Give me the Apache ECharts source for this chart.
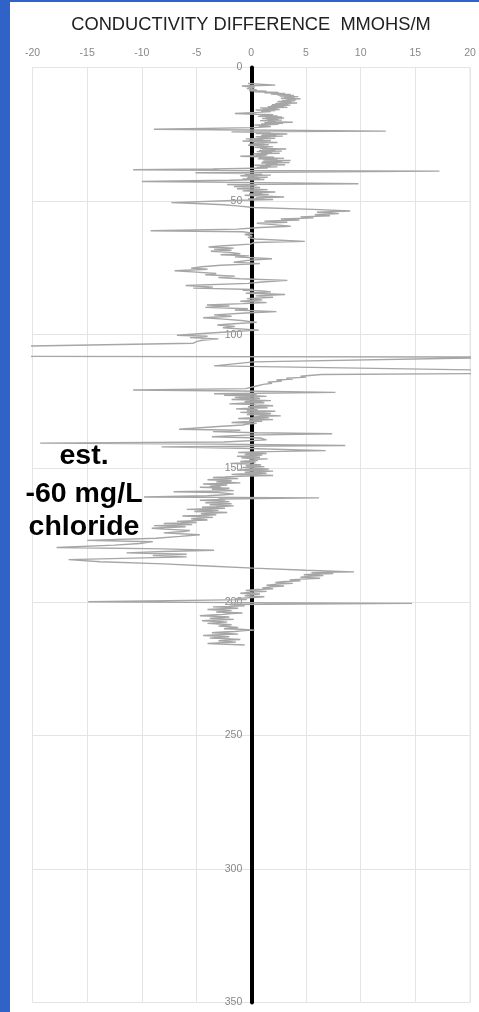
<!DOCTYPE html>
<html><head><meta charset="utf-8">
<script src="https://cdn.jsdelivr.net/npm/echarts@6/dist/echarts.min.js"></script>
<style>html,body{margin:0;padding:0;background:#fff;}#c{width:479px;height:1012px;}</style>
</head><body><div id="c"></div>
<script>
// x-axis ticks (conductivity difference) and y-axis ticks (depth)
const xTicks = [-20,-15,-10,-5,0,5,10,15,20];
const depthTicks = [0,50,100,150,200,250,300,350];
const titleText = 'CONDUCTIVITY DIFFERENCE  MMOHS/M';
const noteLines = ['est.', '-60 mg/L', 'chloride'];

// trace segments: [conductivity difference, depth]
const seg0to50 = [[-0.3,6.0],[2.2,6.6],[-0.85,6.9],[0.3,7.4],[-0.4,7.9],[0.5,8.3],[-0.2,8.7],[1.4,8.9],[0.3,9.1],[2.5,9.3],[1.2,9.5],[3.1,9.7],[1.8,9.9],[3.6,10.1],[2.4,10.3],[3.9,10.5],[2.6,10.7],[4.3,10.9],[3.0,11.1],[4.0,11.3],[2.7,11.5],[4.5,11.7],[3.2,11.9],[4.1,12.1],[2.8,12.3],[4.0,12.5],[2.4,12.7],[3.7,12.9],[2.6,13.1],[4.2,13.3],[2.2,13.5],[3.4,13.7],[1.9,13.9],[3.6,14.1],[1.8,14.3],[3.0,14.5],[1.5,14.7],[3.3,14.9],[0.8,15.1],[2.4,15.3],[1.0,15.5],[2.6,15.7],[0.4,15.9],[2.2,16.1],[0.9,16.3],[1.8,16.5],[0.6,16.8],[-1.5,17.2],[0.5,17.5],[2.0,17.7],[0.8,17.9],[2.4,18.1],[0.6,18.3],[2.8,18.5],[1.3,18.7],[3.0,18.9],[1.0,19.1],[2.5,19.3],[1.4,19.5],[2.8,19.7],[0.8,19.9],[2.2,20.1],[1.5,20.3],[3.8,20.5],[1.2,20.7],[2.9,20.9],[0.9,21.1],[2.5,21.3],[0.3,21.5],[1.6,21.7],[0.7,21.9],[1.8,22.1],[0.2,22.5],[-8.9,23.1],[-0.5,23.4],[12.3,23.8],[-1.8,24.1],[0.6,24.3],[1.8,24.5],[0.4,24.7],[3.3,24.9],[1.0,25.1],[2.3,25.3],[0.9,25.5],[2.9,25.7],[0.4,25.9],[1.7,26.1],[0.6,26.3],[2.2,26.5],[-0.5,26.7],[1.1,26.9],[-0.2,27.1],[1.8,27.3],[-0.8,27.5],[0.9,27.7],[0.1,27.9],[2.4,28.1],[0.2,28.3],[1.2,28.5],[-0.2,28.7],[1.6,28.9],[-0.3,29.1],[1.2,29.3],[0.5,29.5],[2.0,29.7],[0.3,29.9],[1.5,30.1],[0.8,30.3],[3.2,30.5],[1.0,30.7],[2.2,30.9],[0.7,31.1],[2.8,31.3],[0.5,31.5],[1.9,31.7],[0.9,31.9],[2.6,32.1],[0.2,32.3],[1.5,32.5],[0.4,32.7],[1.4,32.9],[-1.0,33.2],[0.8,33.4],[2.1,33.6],[0.7,33.8],[3.0,34.0],[0.6,34.2],[2.4,34.4],[1.1,34.6],[3.6,34.8],[1.2,35.0],[2.8,35.2],[1.0,35.4],[3.5,35.6],[0.9,35.8],[2.4,36.0],[1.3,36.2],[3.1,36.4],[0.3,36.6],[1.8,36.8],[0.8,37.0],[2.4,37.2],[0.5,37.4],[1.5,37.6],[-3.5,38.0],[-10.8,38.3],[-3.0,38.5],[17.2,38.8],[-5.1,39.4],[-0.5,39.7],[1.0,39.9],[-0.6,40.1],[1.8,40.3],[-1.0,40.5],[0.6,40.7],[-0.3,40.9],[1.5,41.1],[-0.4,41.3],[0.8,41.5],[-0.8,41.7],[1.2,41.9],[-2.0,42.2],[-10.0,42.7],[-1.2,43.0],[9.8,43.5],[-2.2,43.8],[0.5,44.1],[-0.8,44.3],[-1.6,44.6],[0.8,44.9],[-0.5,45.1],[-1.3,45.4],[1.5,45.7],[0.2,45.9],[-0.8,46.2],[2.2,46.6],[0.2,46.9],[1.0,47.1],[-0.2,47.3],[1.6,47.5],[-0.6,47.8],[0.8,48.1],[3.0,48.5],[0.4,48.8],[1.2,49.0],[-0.3,49.2],[2.0,49.4],[-1.0,49.7]];
const seg50to103 = [[-7.3,50.6],[-4.5,51.0],[-2.5,51.4],[-1.3,51.8],[0.2,52.4],[5.7,53.1],[9.05,53.7],[6.0,54.2],[8.0,54.7],[5.8,55.1],[7.2,55.5],[4.5,55.9],[5.7,56.3],[2.7,56.7],[4.4,57.1],[1.2,57.5],[3.3,57.9],[0.5,58.3],[2.0,58.8],[3.6,59.4],[0.8,59.9],[-1.3,60.5],[-9.2,61.1],[-0.8,61.5],[0.2,62.0],[-0.6,62.5],[0.1,63.0],[-0.3,63.6],[0.4,64.2],[4.9,65.1],[0.3,65.5],[-0.1,66.1],[-2.5,66.7],[-3.9,67.2],[-1.6,67.6],[-3.4,68.0],[-1.8,68.4],[-3.7,68.8],[-2.0,69.2],[-1.0,69.7],[-2.8,70.1],[-0.2,70.5],[-1.5,70.9],[1.9,71.6],[-0.3,72.2],[-1.6,72.9],[0.8,73.4],[-2.8,74.0],[-4.5,74.6],[-5.5,75.1],[-4.0,75.5],[-7.0,76.1],[-5.0,76.6],[-3.2,77.1],[-4.2,77.6],[-1.5,78.1],[-3.0,78.6],[-1.0,79.1],[3.3,79.7],[1.0,80.3],[-0.3,80.8],[-6.0,81.6],[-3.5,82.2],[-5.3,82.6],[0.2,83.1],[-0.8,83.4],[1.0,83.6],[1.8,84.0],[-0.5,84.5],[1.2,84.7],[3.1,85.0],[0.4,85.5],[1.1,85.7],[2.0,86.0],[-0.4,86.5],[0.4,86.7],[1.0,87.0],[-1.0,87.5],[0.2,87.7],[1.4,88.0],[-0.8,88.4],[-4.05,88.9],[-2.0,89.3],[-4.2,89.8],[-0.3,90.3],[-1.5,90.8],[2.3,91.4],[-0.5,91.9],[-3.4,92.6],[-1.8,93.1],[-4.4,93.7],[-2.5,94.2],[-0.9,94.7],[0.5,95.4],[-1.6,95.9],[-3.1,96.4],[-1.5,96.9],[-2.6,97.4],[0.7,98.3],[-1.9,98.9],[-4.1,99.5],[-6.8,100.2],[-4.0,100.6],[-5.6,101.1],[-3.0,101.6],[-4.5,102.1],[-5.0,102.6],[-5.3,103.2]];
const seg103to150 = [[-25,104.6],[-25,108.1],[25,108.4],[0.2,110.2],[-3.4,111.7],[25,113.5],[25,114.5],[6.4,114.9],[4.5,115.6],[5.0,115.9],[3.2,116.3],[3.8,116.6],[2.3,117.0],[2.8,117.4],[1.5,117.8],[1.9,118.2],[1.1,118.6],[0.3,119.4],[-0.5,120.2],[-10.8,120.7],[-1.0,121.1],[7.7,121.6],[-3.4,122.1],[0.5,122.3],[-1.2,122.5],[-2.5,122.7],[0.2,122.9],[1.4,123.1],[-0.5,123.3],[-1.5,123.5],[0.3,123.7],[0.8,123.9],[-0.9,124.1],[-1.8,124.3],[0.4,124.5],[1.8,124.7],[-0.2,124.9],[-0.6,125.1],[0.9,125.3],[1.2,125.5],[-0.8,125.7],[-2.0,125.9],[-0.3,126.1],[0.4,126.3],[2.0,126.6],[0.6,126.8],[-0.3,127.0],[1.0,127.2],[1.5,127.4],[-0.6,127.6],[-1.4,127.8],[0.2,128.0],[0.6,128.2],[-0.4,128.4],[2.2,128.7],[0.3,128.9],[-1.0,129.1],[0.5,129.3],[1.8,129.5],[-0.1,129.7],[-0.4,129.9],[1.0,130.1],[2.7,130.4],[0.9,130.6],[0.2,130.8],[1.6,131.0],[-0.2,131.2],[-1.2,131.4],[0.6,131.6],[2.0,131.8],[0.4,132.0],[-0.2,132.2],[1.0,132.4],[-0.6,132.6],[-1.8,132.9],[0.5,133.2],[-0.3,133.5],[-0.8,133.8],[-3.0,134.4],[-6.6,135.4],[-1.0,135.8],[-3.5,136.3],[0.5,136.7],[7.4,137.1],[-0.5,137.6],[-3.6,138.2],[0.8,138.7],[1.4,139.4],[-2.5,140.2],[-19.3,140.6],[-3.0,141.0],[8.6,141.5],[-8.2,142.0],[-1.0,142.5],[6.8,143.4],[0.2,143.9],[-1.2,144.1],[0.6,144.3],[1.4,144.5],[-0.2,144.7],[-0.6,144.9],[1.0,145.1],[0.2,145.3],[-1.3,145.5],[0.3,145.7],[0.8,145.9],[-0.9,146.1],[-0.3,146.3],[1.5,146.5],[0.4,146.7],[-0.2,146.9],[0.6,147.1],[-0.5,147.3],[-1.0,147.5],[0.4,147.7],[-0.3,147.9],[-1.9,148.2],[0.2,148.5],[0.9,148.8],[-0.5,149.1],[1.2,149.4],[-0.8,149.7],[0.5,150.0]];
const seg150to201 = [[1.6,150.3],[-0.2,150.5],[-1.3,150.7],[0.8,150.9],[2.0,151.1],[0.2,151.3],[-0.6,151.5],[0.6,151.7],[1.4,151.9],[-0.5,152.1],[-1.8,152.3],[0.5,152.5],[2.0,152.7],[-0.4,152.9],[-1.5,153.1],[-2.4,153.3],[-3.5,153.5],[-2.2,153.7],[-1.2,153.9],[-2.8,154.1],[-4.0,154.3],[-2.6,154.5],[-1.8,154.7],[-2.4,154.9],[-3.2,155.1],[-1.9,155.3],[-1.0,155.5],[-2.7,155.7],[-4.4,155.9],[-3.0,156.1],[-2.2,156.3],[-2.9,156.5],[-3.8,156.7],[-2.8,156.9],[-4.7,157.1],[-3.3,157.3],[-2.0,157.5],[-2.6,157.7],[-3.6,157.9],[-2.4,158.1],[-1.6,158.4],[-7.1,158.8],[-3.0,159.1],[-2.2,159.4],[-1.6,159.7],[-2.8,160.0],[-4.0,160.3],[-9.8,160.8],[6.2,161.1],[-3.0,161.5],[-2.4,161.7],[-4.7,162.0],[-3.1,162.2],[-2.0,162.5],[-3.0,162.7],[-4.2,162.9],[-2.6,163.1],[-1.8,163.3],[-2.9,163.5],[-3.8,163.7],[-2.5,163.9],[-1.6,164.1],[-3.2,164.4],[-4.5,164.6],[-3.3,164.8],[-2.4,165.0],[-4.0,165.2],[-5.9,165.4],[-4.2,165.6],[-3.0,165.8],[-4.1,166.0],[-5.2,166.2],[-3.5,166.4],[-2.2,166.6],[-3.4,166.8],[-4.6,167.0],[-3.8,167.2],[-3.2,167.4],[-4.8,167.7],[-6.3,167.9],[-4.7,168.1],[-3.5,168.4],[-4.5,168.6],[-5.5,168.9],[-4.6,169.1],[-4.0,169.4],[-5.3,169.6],[-6.8,169.9],[-5.8,170.1],[-5.0,170.3],[-6.4,170.5],[-8.0,170.7],[-6.5,170.9],[-5.4,171.1],[-7.0,171.3],[-8.9,171.5],[-7.4,171.7],[-6.0,171.9],[-7.6,172.2],[-9.1,172.5],[-8.0,172.8],[-7.0,173.0],[-5.6,173.3],[-6.2,173.7],[-8.0,174.2],[-4.7,174.9],[-6.5,175.5],[-8.7,176.2],[-15.0,177.0],[-9.0,177.5],[-10.2,178.2],[-12.5,178.8],[-17.8,179.7],[-8.0,180.2],[-3.4,180.7],[-8.0,181.2],[-11.4,181.7],[-5.9,182.2],[-9.0,182.7],[-5.9,183.2],[-16.7,184.2],[-13.8,185.0],[-8.0,185.8],[-4.0,186.6],[0.2,187.4],[5.0,188.2],[9.4,188.8],[5.5,189.1],[7.5,189.4],[6.0,189.6],[4.8,189.9],[6.6,190.2],[5.2,190.5],[4.5,190.8],[6.3,191.2],[4.6,191.5],[3.5,191.8],[4.5,192.1],[3.1,192.4],[2.2,192.8],[3.8,193.1],[2.4,193.4],[1.4,193.8],[3.0,194.1],[1.8,194.4],[1.0,194.8],[2.0,195.1],[0.6,195.4],[-0.5,195.8],[1.4,196.1],[0.2,196.4],[-1.0,196.8],[0.8,197.1],[-0.2,197.4],[-0.6,197.8],[1.2,198.1],[0.1,198.4],[-1.5,198.8],[-0.4,199.2],[-14.9,200.0],[-1.0,200.3],[14.7,200.6],[-2.0,201.0]];
const seg201to216 = [[-0.6,201.5],[-2.0,201.7],[-3.5,201.9],[-2.3,202.1],[-1.2,202.4],[-2.6,202.6],[-4.0,202.9],[-2.9,203.1],[-1.8,203.3],[-2.5,203.5],[-3.2,203.8],[-2.0,204.0],[-0.8,204.2],[-1.8,204.4],[-2.6,204.7],[-3.6,204.9],[-4.7,205.2],[-3.3,205.4],[-2.0,205.7],[-2.9,205.9],[-3.8,206.2],[-2.6,206.4],[-1.6,206.6],[-3.0,206.8],[-4.5,207.1],[-3.4,207.3],[-2.2,207.6],[-3.1,207.8],[-4.0,208.1],[-2.9,208.3],[-1.8,208.6],[-2.4,208.8],[-3.0,209.1],[-2.1,209.3],[-1.2,209.6],[-1.9,209.8],[-2.5,210.1],[-1.0,210.3],[0.3,210.6],[-0.6,210.8],[-1.5,211.1],[-2.6,211.3],[-3.6,211.6],[-2.4,211.8],[-1.2,212.1],[-2.8,212.3],[-4.4,212.6],[-3.2,212.8],[-2.0,213.1],[-2.9,213.3],[-3.8,213.6],[-2.4,213.8],[-1.0,214.1],[-2.0,214.3],[-3.0,214.6],[-2.2,214.8],[-1.4,215.1],[-2.7,215.3],[-4.0,215.6],[-2.3,215.9],[-0.6,216.2]];

const trace = [].concat(seg0to50, seg50to103, seg103to150, seg150to201, seg201to216);

const W = 479, H = 1012;
const gridLeft = 32.5, gridRight = 9, gridTop = 67.5, gridBottom = 9.5;
// put the depth axis (line + labels) at x = 0 of the value axis
const xMin = xTicks[0], xMax = xTicks[xTicks.length-1];
const zeroOffset = (W - gridLeft - gridRight) * (0 - xMin) / (xMax - xMin);

const chart = echarts.init(document.getElementById('c'), null, {renderer: 'canvas'});
const gridColor = '#e4e4e4';
const tickFont = {color: '#888888', fontSize: 10.5, fontFamily: 'Liberation Sans, Arial, sans-serif'};
const noteFont = 'bold 28.5px "Liberation Sans", Arial, sans-serif';
chart.setOption({
  backgroundColor: '#ffffff',
  animation: false,
  title: {
    text: titleText, left: 246, top: 11, textAlign: 'center',
    textStyle: {color: '#222222', fontSize: 18.3, fontWeight: 'normal', fontFamily: 'Liberation Sans, Arial, sans-serif'}
  },
  grid: {left: gridLeft, right: gridRight, top: gridTop, bottom: gridBottom, show: true, borderColor: gridColor, borderWidth: 1, backgroundColor: 'transparent'},
  xAxis: {
    type: 'value', position: 'top', min: xMin, max: xMax, interval: xTicks[1]-xTicks[0],
    axisLine: {show: false}, axisTick: {show: false},
    axisLabel: Object.assign({margin: 9}, tickFont),
    splitLine: {show: true, lineStyle: {color: gridColor, width: 1}}
  },
  yAxis: {
    type: 'value', inverse: true, position: 'left', offset: -zeroOffset,
    min: depthTicks[0], max: depthTicks[depthTicks.length-1], interval: depthTicks[1]-depthTicks[0],
    axisLine: {show: true, onZero: false, lineStyle: {color: '#000000', width: 4}},
    axisTick: {show: false},
    axisLabel: Object.assign({margin: 9}, tickFont),
    splitLine: {show: true, lineStyle: {color: gridColor, width: 1}}
  },
  series: [{
    type: 'line', data: trace, symbol: 'none', clip: true,
    lineStyle: {color: '#a6a6a6', width: 1.4}, z: 3
  }],
  graphic: [
    {type: 'rect', shape: {x: 0, y: 0, width: 10, height: H}, style: {fill: '#3162c8'}, z: 100},
    {type: 'rect', shape: {x: 0, y: 0, width: W, height: 2}, style: {fill: '#3162c8'}, z: 100},
    {type: 'text', x: 84, y: 456, style: {text: noteLines[0], fill: '#000', font: noteFont, textAlign: 'center', textVerticalAlign: 'middle'}, z: 100},
    {type: 'text', x: 84, y: 494.5, style: {text: noteLines[1], fill: '#000', font: noteFont, textAlign: 'center', textVerticalAlign: 'middle'}, z: 100},
    {type: 'text', x: 84, y: 527, style: {text: noteLines[2], fill: '#000', font: noteFont, textAlign: 'center', textVerticalAlign: 'middle'}, z: 100}
  ]
});
</script></body></html>
